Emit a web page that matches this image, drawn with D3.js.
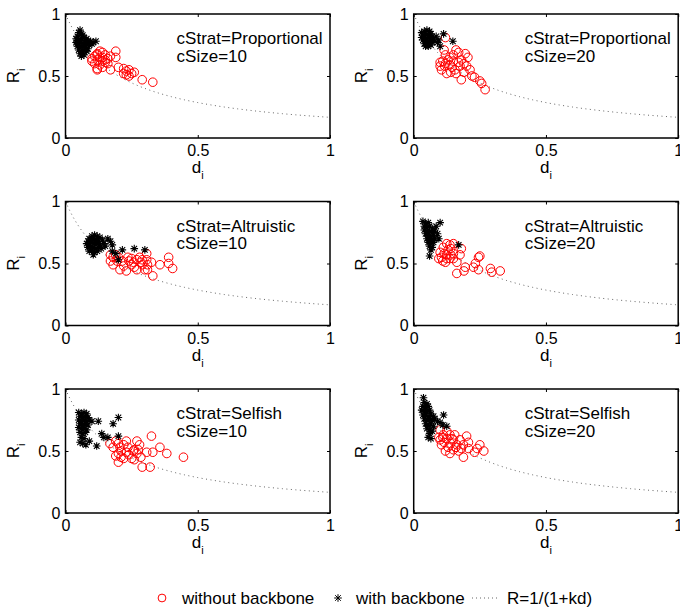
<!DOCTYPE html>
<html>
<head>
<meta charset="utf-8">
<script src="https://cdnjs.cloudflare.com/ajax/libs/d3/7.8.5/d3.min.js"></script>
<style>
  body { margin: 0; background: #fff; }
  text { font-family: "Liberation Sans", Arial, Helvetica, sans-serif; }
</style>
</head>
<body>
<svg id="chart" width="680" height="608"></svg>
<script>
// model curve R = 1/(1+k d)
var kModel = 5;
var xTicks = [0, 0.5, 1];
var yTicks = [0, 0.5, 1];
var stratLabels = ["Proportional", "Proportional", "Altruistic", "Altruistic", "Selfish", "Selfish"];
var sizeLabels = [10, 20, 10, 20, 10, 20];

// [d, R] pairs
var noBackbone1 = [[0.11,0.66],[0.12,0.68],[0.13,0.70],[0.14,0.69],[0.15,0.67],[0.10,0.64],[0.12,0.63],[0.13,0.65],
  [0.14,0.62],[0.16,0.64],[0.15,0.61],[0.11,0.60],[0.13,0.59],[0.12,0.56],[0.12,0.55],[0.14,0.57],[0.16,0.60],
  [0.17,0.66],[0.19,0.70],[0.19,0.65],[0.17,0.55],[0.20,0.57],[0.22,0.56],[0.22,0.52],[0.23,0.54],[0.24,0.50],
  [0.24,0.55],[0.25,0.52],[0.26,0.53],[0.29,0.47],[0.33,0.45],[0.14,0.65],[0.12,0.67],[0.15,0.63],[0.10,0.62],[0.23,0.51]];
var withBackbone1 = [[0.055,0.87],[0.05,0.85],[0.06,0.84],[0.045,0.82],[0.065,0.83],[0.07,0.81],[0.04,0.80],[0.05,0.79],
  [0.06,0.80],[0.075,0.79],[0.085,0.78],[0.095,0.78],[0.105,0.77],[0.115,0.78],[0.04,0.77],[0.05,0.76],[0.06,0.77],
  [0.07,0.76],[0.08,0.76],[0.09,0.75],[0.10,0.76],[0.045,0.74],[0.055,0.73],[0.065,0.74],[0.075,0.73],[0.085,0.72],
  [0.05,0.71],[0.06,0.70],[0.07,0.71],[0.08,0.70],[0.055,0.68],[0.065,0.68],[0.06,0.66],[0.07,0.67],[0.045,0.76],[0.08,0.80]];

var noBackbone2 = [[0.12,0.81],[0.115,0.71],[0.12,0.67],[0.11,0.62],[0.10,0.61],[0.105,0.55],[0.117,0.58],[0.137,0.65],
  [0.15,0.67],[0.16,0.71],[0.17,0.69],[0.18,0.63],[0.175,0.58],[0.156,0.55],[0.16,0.52],[0.18,0.47],[0.19,0.53],
  [0.20,0.58],[0.205,0.65],[0.195,0.68],[0.213,0.55],[0.22,0.50],[0.23,0.49],[0.25,0.46],[0.257,0.44],[0.27,0.39],
  [0.137,0.59],[0.14,0.53],[0.125,0.52],[0.15,0.62],[0.17,0.61],[0.13,0.63],[0.12,0.60],[0.145,0.57],[0.19,0.60],[0.10,0.58]];
var withBackbone2 = [[0.03,0.85],[0.04,0.86],[0.05,0.87],[0.06,0.86],[0.035,0.83],[0.045,0.84],[0.055,0.83],[0.065,0.84],
  [0.03,0.81],[0.04,0.81],[0.05,0.80],[0.06,0.81],[0.07,0.82],[0.035,0.79],[0.045,0.78],[0.055,0.78],[0.065,0.79],
  [0.075,0.80],[0.04,0.76],[0.05,0.76],[0.06,0.76],[0.07,0.77],[0.08,0.78],[0.055,0.74],[0.065,0.75],[0.09,0.77],
  [0.113,0.84],[0.148,0.78],[0.10,0.74],[0.095,0.79],[0.085,0.82],[0.045,0.74]];

var noBackbone3 = [[0.17,0.57],[0.17,0.52],[0.18,0.49],[0.20,0.55],[0.215,0.52],[0.23,0.44],[0.236,0.55],[0.25,0.49],
  [0.27,0.45],[0.27,0.53],[0.28,0.55],[0.29,0.49],[0.30,0.45],[0.307,0.53],[0.325,0.51],[0.33,0.40],[0.357,0.49],
  [0.39,0.55],[0.39,0.50],[0.405,0.46],[0.307,0.58],[0.206,0.45],[0.25,0.54],[0.31,0.45],[0.195,0.52],[0.285,0.51],
  [0.257,0.51],[0.18,0.55],[0.22,0.48],[0.24,0.52],[0.26,0.47],[0.29,0.53],[0.19,0.57],[0.31,0.49]];
var withBackbone3 = [[0.09,0.70],[0.10,0.72],[0.11,0.73],[0.12,0.72],[0.13,0.71],[0.085,0.68],[0.095,0.69],[0.105,0.70],
  [0.115,0.69],[0.125,0.68],[0.14,0.69],[0.08,0.66],[0.09,0.66],[0.10,0.67],[0.11,0.66],[0.12,0.66],[0.13,0.65],
  [0.145,0.66],[0.085,0.63],[0.095,0.64],[0.105,0.63],[0.115,0.62],[0.125,0.63],[0.135,0.62],[0.09,0.60],[0.10,0.61],
  [0.11,0.59],[0.12,0.60],[0.105,0.57],[0.17,0.68],[0.177,0.65],[0.177,0.60],[0.215,0.61],[0.26,0.62],[0.30,0.61],
  [0.20,0.53],[0.16,0.70],[0.15,0.64],[0.19,0.58]];

var noBackbone4 = [[0.10,0.59],[0.112,0.63],[0.125,0.66],[0.137,0.65],[0.15,0.66],[0.125,0.57],[0.105,0.55],[0.137,0.54],
  [0.15,0.58],[0.12,0.51],[0.163,0.51],[0.095,0.54],[0.13,0.61],[0.175,0.57],[0.163,0.42],[0.19,0.44],[0.195,0.47],
  [0.226,0.47],[0.233,0.50],[0.245,0.55],[0.25,0.56],[0.245,0.45],[0.29,0.46],[0.295,0.43],[0.327,0.44],[0.18,0.62],
  [0.14,0.62],[0.115,0.58],[0.14,0.57],[0.11,0.52],[0.15,0.54],[0.125,0.54]];
var withBackbone4 = [[0.035,0.84],[0.045,0.82],[0.055,0.83],[0.04,0.80],[0.05,0.79],[0.06,0.80],[0.07,0.78],[0.10,0.83],
  [0.085,0.80],[0.04,0.77],[0.05,0.76],[0.06,0.76],[0.07,0.75],[0.08,0.77],[0.045,0.74],[0.055,0.73],[0.065,0.72],
  [0.075,0.73],[0.09,0.74],[0.05,0.70],[0.06,0.70],[0.07,0.69],[0.08,0.70],[0.055,0.67],[0.065,0.66],[0.075,0.67],
  [0.06,0.64],[0.07,0.63],[0.065,0.61],[0.06,0.56],[0.17,0.65],[0.095,0.70]];

var noBackbone5 = [[0.168,0.56],[0.18,0.53],[0.19,0.58],[0.20,0.48],[0.20,0.41],[0.21,0.50],[0.22,0.44],[0.23,0.58],
  [0.236,0.53],[0.24,0.47],[0.256,0.50],[0.26,0.43],[0.27,0.48],[0.28,0.55],[0.285,0.45],[0.29,0.37],[0.307,0.49],
  [0.32,0.37],[0.325,0.62],[0.33,0.49],[0.357,0.53],[0.383,0.48],[0.446,0.45],[0.206,0.53],[0.19,0.46],[0.27,0.58],
  [0.25,0.44],[0.22,0.55],[0.21,0.45],[0.26,0.51],[0.20,0.56],[0.23,0.49],[0.275,0.51]];
var withBackbone5 = [[0.05,0.81],[0.06,0.80],[0.07,0.81],[0.08,0.80],[0.055,0.78],[0.065,0.77],[0.075,0.78],[0.085,0.77],
  [0.05,0.75],[0.06,0.74],[0.07,0.75],[0.08,0.74],[0.09,0.75],[0.10,0.74],[0.124,0.74],[0.055,0.72],[0.065,0.71],
  [0.075,0.72],[0.085,0.71],[0.05,0.69],[0.06,0.68],[0.07,0.68],[0.08,0.67],[0.055,0.65],[0.065,0.64],[0.075,0.65],
  [0.06,0.61],[0.07,0.60],[0.055,0.57],[0.065,0.56],[0.077,0.55],[0.118,0.54],[0.137,0.64],[0.145,0.61],[0.16,0.61],
  [0.18,0.72],[0.20,0.77],[0.20,0.62],[0.09,0.58]];

var noBackbone6 = [[0.10,0.67],[0.112,0.63],[0.10,0.59],[0.105,0.55],[0.125,0.60],[0.137,0.63],[0.15,0.59],[0.13,0.53],
  [0.15,0.51],[0.137,0.48],[0.163,0.55],[0.17,0.50],[0.188,0.55],[0.20,0.62],[0.207,0.57],[0.207,0.52],[0.188,0.45],
  [0.24,0.52],[0.25,0.55],[0.265,0.50],[0.12,0.50],[0.155,0.63],[0.175,0.59],[0.095,0.61],[0.115,0.57],[0.14,0.56],
  [0.125,0.66],[0.16,0.53],[0.18,0.52],[0.11,0.61],[0.23,0.49],[0.145,0.60]];
var withBackbone6 = [[0.037,0.93],[0.04,0.89],[0.05,0.88],[0.035,0.86],[0.045,0.85],[0.055,0.86],[0.03,0.83],[0.04,0.82],
  [0.05,0.82],[0.06,0.83],[0.035,0.79],[0.045,0.79],[0.055,0.78],[0.065,0.80],[0.075,0.78],[0.04,0.76],[0.05,0.75],
  [0.06,0.76],[0.07,0.75],[0.08,0.76],[0.09,0.74],[0.10,0.73],[0.113,0.79],[0.125,0.70],[0.045,0.72],[0.055,0.71],
  [0.065,0.72],[0.075,0.70],[0.05,0.68],[0.06,0.67],[0.07,0.66],[0.06,0.64],[0.055,0.61],[0.065,0.60],[0.11,0.71]];

var noBackbone = [noBackbone1, noBackbone2, noBackbone3, noBackbone4, noBackbone5, noBackbone6];
var withBackbone = [withBackbone1, withBackbone2, withBackbone3, withBackbone4, withBackbone5, withBackbone6];

var svg = d3.select("#chart");
var colLeft = [65.5, 413.7],
    rowTop = [14, 201.5, 389],
    pw = 264.5, ph = 124;

var starPath = "M-3.8,0H3.8M0,-3.8V3.8M-2.8,-2.8L2.8,2.8M-2.8,2.8L2.8,-2.8";
var curveD = d3.range(0, 1.0001, 0.01);
var fmt = function(d) { return d === 0.5 ? "0.5" : String(d); };

for (var p = 0; p < 6; p++) {
  var col = p % 2, row = Math.floor(p / 2);
  var g = svg.append("g")
    .attr("transform", "translate(" + colLeft[col] + "," + rowTop[row] + ")");
  var x = d3.scaleLinear().domain([0, 1]).range([0, pw]);
  var y = d3.scaleLinear().domain([0, 1]).range([ph, 0]);

  // model curve
  var line = d3.line()
    .x(function(d) { return x(d); })
    .y(function(d) { return y(1 / (1 + kModel * d)); });
  g.append("path")
    .attr("d", line(curveD))
    .attr("fill", "none")
    .attr("stroke", "#666")
    .attr("stroke-width", 1)
    .attr("stroke-dasharray", "1,3.5");

  // red circles
  g.selectAll(".nb").data(noBackbone[p]).enter().append("circle")
    .attr("class", "nb")
    .attr("cx", function(d) { return x(d[0]); })
    .attr("cy", function(d) { return y(d[1]); })
    .attr("r", 4.3)
    .attr("fill", "none")
    .attr("stroke", "#ff0000")
    .attr("stroke-width", 1);

  // black stars
  g.selectAll(".wb").data(withBackbone[p]).enter().append("path")
    .attr("class", "wb")
    .attr("d", starPath)
    .attr("transform", function(d) { return "translate(" + x(d[0]) + "," + y(d[1]) + ")"; })
    .attr("stroke", "#000")
    .attr("stroke-width", 1.1)
    .attr("fill", "none");

  // axes: inward ticks on all four sides
  var ax = g.append("g").attr("transform", "translate(0," + ph + ")")
    .call(d3.axisBottom(x).tickValues(xTicks).tickFormat(fmt).tickSizeInner(-3).tickSizeOuter(0));
  ax.selectAll("text").attr("y", 7).attr("dy", "0.71em");
  var ay = g.append("g")
    .call(d3.axisLeft(y).tickValues(yTicks).tickFormat(fmt).tickSizeInner(-3).tickSizeOuter(0));
  ay.selectAll("text").attr("x", -5);
  g.append("g").call(d3.axisTop(x).tickValues(xTicks).tickFormat("").tickSizeInner(-3).tickSizeOuter(0));
  g.append("g").attr("transform", "translate(" + pw + ",0)")
    .call(d3.axisRight(y).tickValues(yTicks).tickFormat("").tickSizeInner(-3).tickSizeOuter(0));
  g.selectAll(".domain").remove();
  g.selectAll(".tick line").attr("stroke", "#000");
  g.selectAll(".tick text").attr("font-size", 16).attr("fill", "#000")
    .style("font-family", "'Liberation Sans', Arial, sans-serif");

  g.append("rect")
    .attr("width", pw).attr("height", ph)
    .attr("fill", "none").attr("stroke", "#000").attr("stroke-width", 1.5);

  // axis labels
  var xl = g.append("text")
    .attr("x", x(0.5)).attr("y", ph + 35)
    .attr("text-anchor", "middle").attr("font-size", 17);
  xl.append("tspan").text("d");
  xl.append("tspan").attr("font-size", 11).attr("dy", 6).text("i");

  var yl = g.append("text")
    .attr("transform", "translate(-47," + (ph / 2) + ") rotate(-90)")
    .attr("text-anchor", "middle").attr("font-size", 17);
  yl.append("tspan").text("R");
  yl.append("tspan").attr("font-size", 11).attr("dy", 6).text("i");

  // annotation
  g.append("text").attr("x", x(0.42)).attr("y", 30).attr("font-size", 17)
    .text("cStrat=" + stratLabels[p]);
  g.append("text").attr("x", x(0.42)).attr("y", 47.5).attr("font-size", 17)
    .text("cSize=" + sizeLabels[p]);
}

// legend
var lg = svg.append("g").attr("transform", "translate(0,598)");
lg.append("circle").attr("cx", 162).attr("cy", 0).attr("r", 3.9)
  .attr("fill", "none").attr("stroke", "#ff0000").attr("stroke-width", 1);
lg.append("text").attr("x", 182).attr("y", 6).attr("font-size", 17).text("without backbone");
lg.append("path").attr("d", starPath).attr("transform", "translate(338,0)")
  .attr("stroke", "#000").attr("fill", "none");
lg.append("text").attr("x", 356).attr("y", 6).attr("font-size", 17).text("with backbone");
lg.append("line").attr("x1", 472).attr("x2", 500).attr("y1", 0).attr("y2", 0)
  .attr("stroke", "#666").attr("stroke-dasharray", "1,3");
lg.append("text").attr("x", 507).attr("y", 6).attr("font-size", 17).text("R=1/(1+kd)");
</script>
</body>
</html>
